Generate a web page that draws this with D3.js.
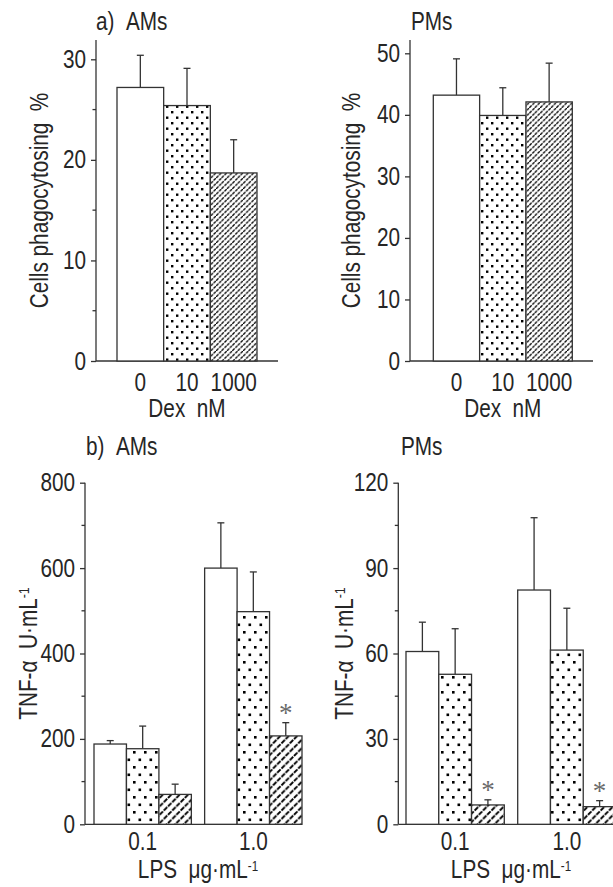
<!DOCTYPE html>
<html lang="en">
<head>
  <meta charset="UTF-8" />
  <title>Dex effect on phagocytosis and TNF-alpha</title>
  <script src="https://d3js.org/d3.v7.min.js"></script>
  <style>
    body { margin: 0; background: #fff; }
    svg { display: block; font-family: "Liberation Sans", Arial, sans-serif; }
    text { fill: #262626; }
  </style>
</head>
<body>
  <svg id="chart" width="613" height="887"></svg>
  <script>
    // Dex doses (nM) and LPS doses
    const dexDoses = ["0", "10", "1000"];
    const lpsDoses = ["0.1", "1.0"];

    // a) phagocytosis, % cells
    const phagoAMs = [27.2, 25.4, 18.7];
    const phagoAMsErr = [3.2, 3.7, 3.3];
    const phagoPMs = [43.2, 39.9, 42.1];
    const phagoPMsErr = [5.9, 4.5, 6.3];

    // b) TNF-alpha U/mL, one row per LPS dose
    const tnfAMs = [[188, 177, 70], [600, 498, 207]];
    const tnfAMsErr = [[8, 53, 24], [106, 93, 31]];
    const tnfAMsSig = [[0, 0, 0], [0, 0, 1]];
    const tnfPMs = [[60.7, 52.7, 6.8], [82.3, 61.2, 6.2]];
    const tnfPMsErr = [[10.3, 16.0, 1.8], [25.4, 14.7, 2.1]];
    const tnfPMsSig = [[0, 0, 1], [0, 0, 1]];

    // axis ticks
    const ticksA_AMs = [0, 10, 20, 30], minorA_AMs = [5, 15, 25];
    const ticksA_PMs = [0, 10, 20, 30, 40, 50], minorA_PMs = [];
    const ticksB_AMs = [0, 200, 400, 600, 800], minorB_AMs = [100, 300, 500, 700];
    const ticksB_PMs = [0, 30, 60, 90, 120], minorB_PMs = [15, 45, 75, 105];

    const svg = d3.select("#chart");
    const ink = "#333";
    const FS = 25;
    const NARROW = 0.83; // no condensed face installed, squeeze text horizontally

    // fill patterns: dots and dashed hatching, two densities
    const defs = svg.append("defs");
    function dotPattern(id, w, h, s) {
      const p = defs.append("pattern").attr("id", id)
        .attr("patternUnits", "userSpaceOnUse").attr("width", w).attr("height", h);
      p.append("rect").attr("width", w).attr("height", h).attr("fill", "#fff");
      p.append("rect").attr("x", 1).attr("y", 1).attr("width", s).attr("height", s).attr("fill", "#000");
      p.append("rect").attr("x", 1 + w / 2).attr("y", 1 + h / 2).attr("width", s).attr("height", s).attr("fill", "#000");
    }
    function hatchPattern(id, w, sw, dash) {
      const p = defs.append("pattern").attr("id", id)
        .attr("patternUnits", "userSpaceOnUse").attr("width", w).attr("height", w);
      p.append("rect").attr("width", w).attr("height", w).attr("fill", "#fff");
      p.append("path")
        .attr("d", `M0,${w} L${w},0 M${-w / 2},${w / 2} L${w / 2},${-w / 2} M${w / 2},${w * 1.5} L${w * 1.5},${w / 2}`)
        .attr("stroke", "#000").attr("stroke-width", sw).attr("stroke-dasharray", dash);
    }
    dotPattern("dotsA", 10, 11, 2.4);
    dotPattern("dotsB", 11, 15, 2.6);
    hatchPattern("hatchA", 5.4, 1.35, "3.4,1");
    hatchPattern("hatchB", 8.4, 1.9, "4.8,1.2");

    const fillsA = ["#fff", "url(#dotsA)", "url(#hatchA)"];
    const fillsB = ["#fff", "url(#dotsB)", "url(#hatchB)"];

    function yAxis(g, p) {
      const y = p.y;
      g.append("line")
        .attr("x1", p.axisX).attr("x2", p.axisX)
        .attr("y1", y(0)).attr("y2", p.axisTop)
        .attr("stroke", ink).attr("stroke-width", 1.3);
      g.append("line")
        .attr("x1", p.axisX).attr("x2", p.xEnd)
        .attr("y1", y(0)).attr("y2", y(0))
        .attr("stroke", ink).attr("stroke-width", 1.3);
      const ax = g.append("g").attr("transform", `translate(${p.axisX},0)`)
        .call(d3.axisLeft(y).tickValues(p.ticks).tickSize(5).tickPadding(5).tickFormat(d3.format("d")));
      ax.select(".domain").remove();
      ax.attr("font-family", null);
      ax.selectAll("line").attr("stroke", ink).attr("stroke-width", 1.3);
      ax.selectAll("text").attr("font-size", FS).attr("fill", "#262626");
      g.selectAll(".minor").data(p.minor).join("line").attr("class", "minor")
        .attr("x1", p.axisX - 3.5).attr("x2", p.axisX)
        .attr("y1", d => y(d)).attr("y2", d => y(d))
        .attr("stroke", ink).attr("stroke-width", 1.3);
      // rotated y label
      const t = g.append("text")
        .attr("transform", `translate(${p.axisX - p.labelOff},${(y(0) + p.axisTop) / 2}) rotate(-90) scale(${NARROW},1)`)
        .attr("text-anchor", "middle").attr("font-size", FS);
      p.yLabel(t);
    }

    function errBar(g, x, yBase, yTop) {
      g.append("line").attr("x1", x).attr("x2", x).attr("y1", yBase).attr("y2", yTop)
        .attr("stroke", ink).attr("stroke-width", 1.3);
      g.append("line").attr("x1", x - 3.5).attr("x2", x + 3.5).attr("y1", yTop).attr("y2", yTop)
        .attr("stroke", ink).attr("stroke-width", 1.3);
    }

    // ---------- panel a ----------
    function panelA(p) {
      const g = svg.append("g");
      p.y = d3.scaleLinear().domain([0, p.yMax]).range([p.y0, p.yMaxPx]);
      const x = d3.scaleBand().domain(dexDoses).range(p.barRange).padding(0);
      p.yLabel = t => t.text("Cells phagocytosing\u00a0\u00a0%");
      yAxis(g, p);
      dexDoses.forEach((d, i) => {
        const v = p.values[i];
        errBar(g, x(d) + x.bandwidth() / 2, p.y(v), p.y(v + p.errs[i]));
      });
      g.selectAll(".bar").data(dexDoses).join("rect").attr("class", "bar")
        .attr("x", d => x(d)).attr("width", x.bandwidth())
        .attr("y", (d, i) => p.y(p.values[i]))
        .attr("height", (d, i) => p.y(0) - p.y(p.values[i]))
        .attr("fill", (d, i) => fillsA[i])
        .attr("stroke", ink).attr("stroke-width", 1.3);
      const xa = g.append("g").attr("transform", `translate(0,${p.y(0)})`)
        .call(d3.axisBottom(x).tickSize(0).tickPadding(12));
      xa.select(".domain").remove();
      xa.attr("font-family", null);
      xa.selectAll("text").attr("font-size", FS).attr("fill", "#262626");
      g.append("text")
        .attr("x", (p.barRange[0] + p.barRange[1]) / 2).attr("y", 417)
        .attr("text-anchor", "middle").attr("font-size", FS)
        .text("Dex\u00a0\u00a0nM");
      g.append("text").attr("x", p.titleX).attr("y", 30).attr("font-size", FS)
        .text(p.title);
    }

    // ---------- panel b ----------
    function panelB(p) {
      const g = svg.append("g");
      p.y = d3.scaleLinear().domain([0, p.yMax]).range([p.y0, p.yMaxPx]);
      const xg = d3.scaleBand().domain(lpsDoses).range(p.barRange).paddingInner(0.12).paddingOuter(0);
      const xi = d3.scaleBand().domain(dexDoses).range([0, xg.bandwidth()]).padding(0);
      p.yLabel = t => {
        t.append("tspan").text("TNF-\u03b1\u00a0\u00a0U\u00b7mL");
        t.append("tspan").attr("font-size", FS * 0.6).attr("dy", -8).text("-1");
      };
      yAxis(g, p);
      lpsDoses.forEach((l, gi) => {
        dexDoses.forEach((d, i) => {
          const v = p.values[gi][i];
          const cx = xg(l) + xi(d) + xi.bandwidth() / 2;
          const top = p.y(v + p.errs[gi][i]);
          errBar(g, cx, p.y(v), top);
          if (p.sig[gi][i]) {
            g.append("text").attr("class", "star").attr("x", cx).attr("y", top - 1)
              .attr("text-anchor", "middle").attr("font-size", 27)
              .attr("font-family", "Liberation Serif, serif")
              .style("fill", "#6a6a6a").text("*");
          }
        });
        g.selectAll(".bar" + gi).data(dexDoses).join("rect").attr("class", "bar" + gi)
          .attr("x", d => xg(l) + xi(d)).attr("width", xi.bandwidth())
          .attr("y", (d, i) => p.y(p.values[gi][i]))
          .attr("height", (d, i) => p.y(0) - p.y(p.values[gi][i]))
          .attr("fill", (d, i) => fillsB[i])
          .attr("stroke", ink).attr("stroke-width", 1.3);
      });
      const xa = g.append("g").attr("transform", `translate(0,${p.y(0)})`)
        .call(d3.axisBottom(xg).tickSize(0).tickPadding(8));
      xa.select(".domain").remove();
      xa.attr("font-family", null);
      xa.selectAll("text").attr("font-size", FS).attr("fill", "#262626");
      const lab = g.append("text")
        .attr("x", (p.barRange[0] + p.barRange[1]) / 2).attr("y", 878)
        .attr("text-anchor", "middle").attr("font-size", FS);
      lab.append("tspan").text("LPS\u00a0\u00a0\u03bcg\u00b7mL");
      lab.append("tspan").attr("font-size", FS * 0.56).attr("dy", -7).text("-1");
      g.append("text").attr("x", p.titleX).attr("y", 455).attr("font-size", FS)
        .text(p.title);
    }

    panelA({
      title: "a)\u00a0\u00a0AMs", titleX: 96,
      axisX: 96, y0: 361, yMaxPx: 59.3, yMax: 30, axisTop: 40, xEnd: 278,
      barRange: [117, 257], ticks: ticksA_AMs, minor: minorA_AMs, labelOff: 48,
      values: phagoAMs, errs: phagoAMsErr
    });
    panelA({
      title: "PMs", titleX: 411,
      axisX: 410, y0: 361, yMaxPx: 53.3, yMax: 50, axisTop: 40, xEnd: 593,
      barRange: [433.3, 572.3], ticks: ticksA_PMs, minor: minorA_PMs, labelOff: 50,
      values: phagoPMs, errs: phagoPMsErr
    });
    panelB({
      title: "b)\u00a0\u00a0AMs", titleX: 86,
      axisX: 85, y0: 824.3, yMaxPx: 482.7, yMax: 800, axisTop: 482.7, xEnd: 302,
      barRange: [94, 302], ticks: ticksB_AMs, minor: minorB_AMs, labelOff: 48,
      values: tnfAMs, errs: tnfAMsErr, sig: tnfAMsSig
    });
    panelB({
      title: "PMs", titleX: 401,
      axisX: 398.3, y0: 824.3, yMaxPx: 482.7, yMax: 120, axisTop: 482.7, xEnd: 640,
      barRange: [406, 616], ticks: ticksB_PMs, minor: minorB_PMs, labelOff: 45,
      values: tnfPMs, errs: tnfPMsErr, sig: tnfPMsSig
    });

    // squeeze horizontal texts around their anchor point
    svg.selectAll("text:not(.star)").filter(function () { return !this.getAttribute("transform"); })
      .each(function () {
        const el = d3.select(this);
        const x = +el.attr("x") || 0;
        el.attr("transform", `translate(${x},0) scale(${NARROW},1) translate(${-x},0)`);
      });
  </script>
</body>
</html>
